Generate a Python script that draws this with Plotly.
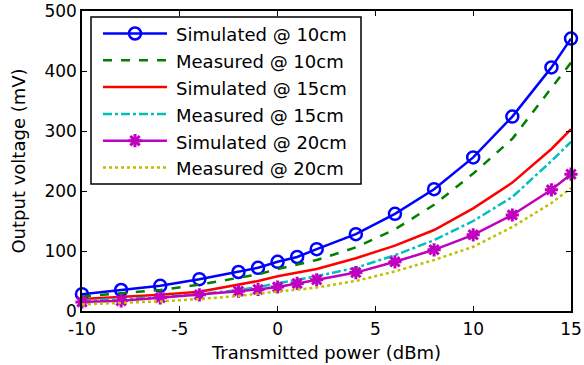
import plotly.graph_objects as go

x_dbm = [-10, -8, -6, -4, -2, -1, 0, 1, 2, 4, 6, 8, 10, 12, 14, 15]

sim_10 = [28, 35, 42, 53, 65, 72, 82, 90, 103, 128, 162, 203, 256, 324, 406, 454]
meas_10 = [24, 29, 35, 44, 55, 61, 70, 77, 85, 106, 136, 177, 229, 287, 372, 414]
sim_15 = [20, 23, 27, 32, 44, 50, 58, 64, 70, 88, 109, 135, 171, 214, 270, 303]
meas_15 = [17, 20, 23, 28, 35, 40, 46, 52, 58, 72, 93, 118, 150, 190, 250, 282]
sim_20 = [15, 17, 22, 27, 33, 36, 40, 46, 52, 64, 82, 102, 127, 160, 202, 228]
meas_20 = [11, 13, 16, 20, 25, 29, 32, 35, 39, 50, 66, 85, 107, 140, 180, 205]

series_names = ["Simulated @ 10cm", "Measured @ 10cm", "Simulated @ 15cm",
                "Measured @ 15cm", "Simulated @ 20cm", "Measured @ 20cm"]
series_values = [sim_10, meas_10, sim_15, meas_15, sim_20, meas_20]

x_ticks = [-10, -5, 0, 5, 10, 15]
x_ticktext = ["-10", "-5", "0", "5", "10", "15"]
y_ticks = [0, 100, 200, 300, 400, 500]

FONT = "DejaVu Sans, Verdana, sans-serif"

styles = [
    dict(color="#0000FF", dash="solid", marker=dict(symbol="circle-open", size=12, color="#0000FF",
                                                     line=dict(width=2.5, color="#0000FF"))),
    dict(color="#008000", dash="dash", marker=None),
    dict(color="#FF0000", dash="solid", marker=None),
    dict(color="#00BFBF", dash="dashdot", marker=None),
    dict(color="#BF00BF", dash="solid", marker=dict(symbol="asterisk-open", size=11, color="#BF00BF",
                                                     line=dict(width=3, color="#BF00BF"))),
    dict(color="#BFBF00", dash="dot", marker=None),
]

# plot-area geometry in pixels (for the hand-drawn MATLAB-style legend)
W, H = 584, 365
ML, MR, MT, MB = 82, 13, 11, 54
PW, PH = W - ML - MR, H - MT - MB


def px_x(p):
    return (p - ML) / PW


def px_y(p):
    return (H - MB - p) / PH


fig = go.Figure()
for name, vals, st in zip(series_names, series_values, styles):
    kw = dict(x=x_dbm, y=vals, name=name, showlegend=False, cliponaxis=False,
              line=dict(color=st["color"], width=2.5, dash=st["dash"]))
    if st["marker"] is not None:
        kw.update(mode="lines+markers", marker=st["marker"])
    else:
        kw.update(mode="lines")
    fig.add_trace(go.Scatter(**kw))

# Legend box (drawn below traces; no data passes through this region)
shapes = [dict(type="rect", xref="paper", yref="paper",
               x0=px_x(91), x1=px_x(361), y0=px_y(184), y1=px_y(17),
               line=dict(color="black", width=1.5), fillcolor="white", layer="below")]
annotations = []
row0, drow = 33.5, 26.8
for i, (name, st) in enumerate(zip(series_names, styles)):
    yy = row0 + drow * i
    shapes.append(dict(type="line", xref="paper", yref="paper",
                       x0=px_x(103), x1=px_x(167), y0=px_y(yy), y1=px_y(yy),
                       line=dict(color=st["color"], width=2.5, dash=st["dash"]), layer="below"))
    annotations.append(dict(text=name, xref="paper", yref="paper", x=px_x(174), y=px_y(yy + 1.5),
                            xanchor="left", yanchor="middle", showarrow=False,
                            font=dict(family=FONT, size=18, color="black")))
    if st["marker"] is not None:
        fig.add_trace(go.Scatter(x=[px_x(135)], y=[px_y(yy)], xaxis="x2", yaxis="y2",
                                 mode="markers", marker=st["marker"], showlegend=False,
                                 hoverinfo="skip", cliponaxis=False))

axis_common = dict(showgrid=False, zeroline=False, showline=True, linecolor="black", linewidth=1.5,
                   mirror="ticks", ticks="inside", ticklen=5, tickcolor="black", automargin=False,
                   tickfont=dict(family=FONT, size=17, color="black"))

fig.update_layout(
    width=W, height=H,
    margin=dict(l=ML, r=MR, t=MT, b=MB),
    paper_bgcolor="white", plot_bgcolor="white",
    font=dict(family=FONT, size=18, color="black"),
    xaxis=dict(range=[-10, 15], tickvals=x_ticks, ticktext=x_ticktext, ticklabelstandoff=2,
               title=dict(text="Transmitted power (dBm)", standoff=8, font=dict(family=FONT, size=18)),
               **axis_common),
    yaxis=dict(range=[0, 500], tickvals=y_ticks,
               title=dict(text="Output voltage (mV)", standoff=14, font=dict(family=FONT, size=18)),
               **axis_common),
    xaxis2=dict(range=[0, 1], overlaying="x", visible=False, fixedrange=True),
    yaxis2=dict(range=[0, 1], overlaying="y", visible=False, fixedrange=True),
    shapes=shapes,
    annotations=annotations,
    showlegend=False,
)

fig.write_html("out.html")
